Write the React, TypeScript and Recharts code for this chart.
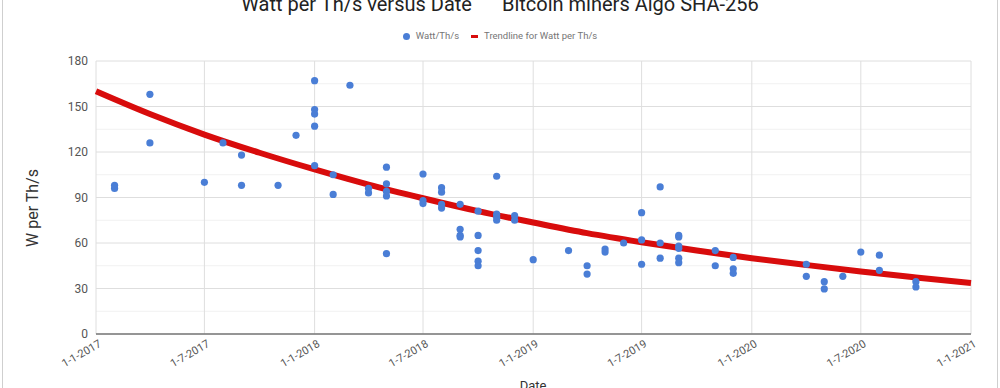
import React from 'react';
import { ComposedChart, Line, Scatter, XAxis, YAxis, CartesianGrid } from 'recharts';

// x axis tick dates (day-month-year labels)
const xTickDates = ['2017-01-01', '2017-07-01', '2018-01-01', '2018-07-01', '2019-01-01', '2019-07-01', '2020-01-01', '2020-07-01', '2021-01-01'];
const yTicks = [0, 30, 60, 90, 120, 150, 180];
const yMinorTicks = [15, 45, 75, 105, 135, 165];

// miners: release date and W per Th/s
const minerDates = [
  '2017-02-01', '2017-02-01',
  '2017-04-01', '2017-04-01',
  '2017-07-01',
  '2017-08-01',
  '2017-09-01', '2017-09-01',
  '2017-11-01',
  '2017-12-01',
  '2018-01-01', '2018-01-01', '2018-01-01', '2018-01-01', '2018-01-01',
  '2018-02-01', '2018-02-01',
  '2018-03-01',
  '2018-04-01', '2018-04-01',
  '2018-05-01', '2018-05-01', '2018-05-01', '2018-05-01', '2018-05-01',
  '2018-07-01', '2018-07-01', '2018-07-01',
  '2018-08-01', '2018-08-01', '2018-08-01', '2018-08-01',
  '2018-09-01', '2018-09-01', '2018-09-01', '2018-09-01',
  '2018-10-01', '2018-10-01', '2018-10-01', '2018-10-01', '2018-10-01',
  '2018-11-01', '2018-11-01', '2018-11-01', '2018-11-01',
  '2018-12-01', '2018-12-01',
  '2019-01-01',
  '2019-03-01',
  '2019-04-01', '2019-04-01',
  '2019-05-01', '2019-05-01',
  '2019-06-01',
  '2019-07-01', '2019-07-01', '2019-07-01',
  '2019-08-01', '2019-08-01', '2019-08-01',
  '2019-09-01', '2019-09-01', '2019-09-01', '2019-09-01', '2019-09-01', '2019-09-01',
  '2019-11-01', '2019-11-01',
  '2019-12-01', '2019-12-01', '2019-12-01',
  '2020-04-01', '2020-04-01',
  '2020-05-01', '2020-05-01',
  '2020-06-01',
  '2020-07-01',
  '2020-08-01', '2020-08-01',
  '2020-10-01', '2020-10-01',
];
const minerWatts = [
  96, 98,
  158, 126,
  100,
  126,
  118, 98,
  98,
  131,
  167, 148, 145, 137, 111,
  105, 92,
  164,
  96, 93,
  110, 99, 94, 91, 53,
  105.5, 88, 86,
  96.5, 93.5, 85.5, 83,
  85.5, 69, 65, 64,
  81, 65, 55, 48, 45,
  104, 79, 77, 75,
  78, 75,
  49,
  55,
  45, 39.5,
  56, 54,
  60,
  80, 62, 46,
  97, 60, 50,
  65, 64, 58, 56.5, 50, 47,
  55, 45,
  50.5, 43, 40,
  46, 38,
  34.5, 29.7,
  38,
  54,
  52, 42,
  34.5, 31,
];

// trendline
const trendDates = ['2017-01-01', '2017-04-01', '2017-07-01', '2017-10-01', '2018-01-01', '2018-04-01', '2018-07-01', '2018-10-01', '2019-01-01', '2019-04-01', '2019-07-01', '2019-10-01', '2020-01-01', '2020-04-01', '2020-07-01', '2020-10-01', '2021-01-01'];
const trendWatts = [160, 145, 131.5, 119.5, 108.5, 98.5, 89.5, 81, 73.5, 66.5, 60.5, 55, 50, 45.5, 41.2, 37.3, 33.6];

const toTime = (s: string) => new Date(s + 'T00:00:00Z').getTime();
const fmtDate = (t: number) => {
  const d = new Date(t);
  return `${d.getUTCDate()}-${d.getUTCMonth() + 1}-${d.getUTCFullYear()}`;
};

const points = minerDates.map((d, i) => ({ t: toTime(d), v: minerWatts[i] }));
const trend = trendDates.map((d, i) => ({ t: toTime(d), v: trendWatts[i] }));
const xTicks = xTickDates.map(toTime);

const FONT = 'Roboto, sans-serif';
const BLUE = '#4a7ed6';
const RED = '#d80c0c';

const XTick = ({ x, y, payload }: any) => (
  <text
    x={x + 6}
    y={y + 4}
    transform={`rotate(-30, ${x + 6}, ${y + 4})`}
    textAnchor="end"
    fontSize={11}
    fill="#555"
    fontFamily={FONT}
  >
    {fmtDate(payload.value)}
  </text>
);

const Dot = (props: any) => <circle cx={props.cx} cy={props.cy} r={3.6} fill={BLUE} />;

const App: React.FC = () => {
  return (
    <div style={{ position: 'absolute', left: 0, top: 0, width: 1000, height: 388, background: '#fff', overflow: 'hidden', fontFamily: FONT }}>
      <div style={{ position: 'absolute', left: 2, top: 0, width: 994, height: 388, borderLeft: '1px solid #cfcfcf', borderRight: '1px solid #cfcfcf', pointerEvents: 'none' }} />
      <div style={{ position: 'absolute', left: 0, width: 1000, top: -8, textAlign: 'center', fontSize: 20, color: '#222', lineHeight: '24px', whiteSpace: 'nowrap' }}>
        <span>Watt per Th/s versus Date</span>
        <span style={{ marginLeft: 30 }}>Bitcoin miners Algo SHA-256</span>
      </div>
      <div style={{ position: 'absolute', left: 0, width: 1000, top: 29, display: 'flex', justifyContent: 'center', alignItems: 'center', fontSize: 9.5, color: '#757575', lineHeight: '14px' }}>
        <span style={{ display: 'inline-block', width: 7, height: 7, borderRadius: 4, background: BLUE, marginRight: 6 }} />
        <span>Watt/Th/s</span>
        <span style={{ display: 'inline-block', width: 7, height: 3, background: RED, marginLeft: 12, marginRight: 6 }} />
        <span>Trendline for Watt per Th/s</span>
      </div>
      <div style={{ position: 'absolute', left: 32, top: 208, transform: 'translate(-50%, -50%) rotate(-90deg)', fontSize: 16, color: '#333', whiteSpace: 'nowrap' }}>
        W per Th/s
      </div>
      <div style={{ position: 'absolute', left: 533, top: 378, transform: 'translateX(-50%)', fontSize: 13, color: '#333', lineHeight: '16px' }}>
        Date
      </div>
      <ComposedChart width={1000} height={388} margin={{ top: 61, right: 29, bottom: 0, left: 0 }} style={{ position: 'absolute', left: 0, top: 0 }}>
        <CartesianGrid stroke="#f1f1f1" vertical={false} horizontalValues={yMinorTicks} />
        <CartesianGrid stroke="#dedede" />
        <XAxis
          type="number"
          dataKey="t"
          domain={[xTicks[0], xTicks[xTicks.length - 1]]}
          ticks={xTicks}
          tick={<XTick />}
          tickLine={false}
          axisLine={{ stroke: '#777', strokeWidth: 1.5 }}
          height={54}
          interval={0}
        />
        <YAxis
          type="number"
          domain={[0, 180]}
          ticks={yTicks}
          width={96}
          tickLine={false}
          axisLine={false}
          tick={{ fontSize: 12, fill: '#555', fontFamily: FONT }}
        />
        <Line data={trend} dataKey="v" type="monotone" stroke={RED} strokeWidth={6} dot={false} isAnimationActive={false} />
        <Scatter data={points} dataKey="v" shape={<Dot />} isAnimationActive={false} />
      </ComposedChart>
    </div>
  );
};

export default App;
